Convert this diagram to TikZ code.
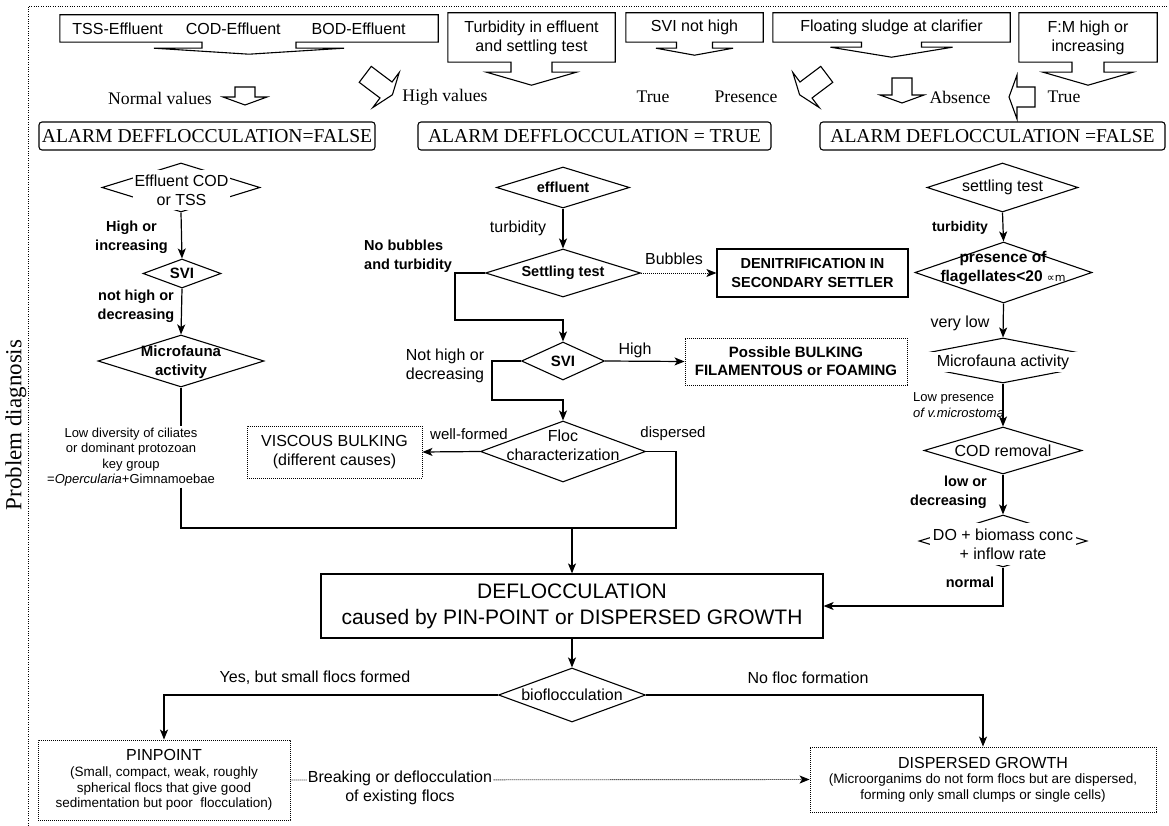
\documentclass[tikz,border=0pt]{standalone}
\usepackage{fontspec}
\setmainfont{Liberation Sans}
\newfontfamily\tms{Liberation Serif}
\newfontfamily\djv{DejaVu Sans}
\usetikzlibrary{arrows.meta,positioning,shapes.geometric,calc}

\newcommand\sznorm{\fontsize{16}{19}\selectfont}
\newcommand\szbold{\fontsize{14.5}{19}\selectfont\bfseries}
\newcommand\szsmall{\fontsize{13}{15.5}\selectfont}
\newcommand\szpar{\fontsize{13.5}{15.5}\selectfont}
\newcommand\szbig{\fontsize{21}{26}\selectfont}
\newcommand\sztimes{\tms\fontsize{17.7}{20}\selectfont}
\newcommand\szalarm{\tms\fontsize{19.6}{22}\selectfont}

% callout outline round a rectangle node: name, stem half width, stem length, wing half width, head length
\newcommand\callout[5]{%
  \draw[line width=1.1pt, line join=miter]
    (#1.south west) -- (#1.north west) -- (#1.north east) -- (#1.south east)
    -- ($(#1.south)+(#2,0)$) -- ($(#1.south)+(#2,#3)$) -- ($(#1.south)+(#4,#3)$)
    -- ($(#1.south)+(0,#3+#5)$) -- ($(#1.south)+(-#4,#3)$) -- ($(#1.south)+(-#2,#3)$)
    -- ($(#1.south)+(-#2,0)$) -- cycle;}

\tikzset{
  txt/.style={inner sep=1pt, align=center, font=\sznorm},
  btxt/.style={txt, font=\szbold},
  tlbl/.style={inner sep=1pt, font=\sztimes},
  mask/.style={txt, fill=white, inner sep=0pt},
  dec/.style={diamond, draw, line width=1.1pt, inner sep=0pt},
  solidbox/.style={draw, line width=1.2pt, rectangle, align=center, inner sep=0pt},
  dotbox/.style={draw, line width=0.9pt, dash pattern=on 0.9pt off 1.1pt, rectangle, align=center, inner sep=0pt},
  alarm/.style={draw, line width=1.1pt, rounded corners=3pt, font=\szalarm, minimum height=28pt, inner sep=0pt},
  wire/.style={line width=1.2pt},
  conn/.style={wire, -{Stealth[length=10pt, width=8pt, inset=2.5pt]}},
  dotconn/.style={line width=0.9pt, dash pattern=on 0.9pt off 1.1pt, -{Stealth[length=10pt, width=8pt, inset=2.5pt]}},
  pics/holarrow/.style={code={
    \draw[line width=1.1pt, line join=miter] (-10,-#1) -- (10,-#1) -- (10,0) -- (22,0) -- (0,8) -- (-22,0) -- (-10,0) -- cycle;}}
}

\begin{document}
\begin{tikzpicture}[x=1pt,y=-1pt]
\useasboundingbox (0,0) rectangle (1169,826);

% frame and side title
\draw[line width=0.9pt, dash pattern=on 1pt off 1.4pt] (28,826) -- (28,6) -- (1167,6);
\node[rotate=90, inner sep=0pt, font=\tms\fontsize{23}{26}\selectfont] (pdiag) at (16,425) {Problem diagnosis};

% observations
\node[txt, inner sep=0pt, minimum width=378pt, minimum height=27pt] (cb1) at (249,28.5) {TSS-Effluent\hspace{23pt}COD-Effluent\hspace{31pt}BOD-Effluent\hspace{20pt}};
\node[txt, inner sep=0pt, minimum width=167pt, minimum height=49pt] (cb2) at (531.5,37.5) {Turbidity in effluent\\and settling test};
\node[txt, inner sep=0pt, minimum width=137pt, minimum height=29pt] (cb3) at (694.5,27.5) {SVI not high};
\node[txt, inner sep=0pt, minimum width=237pt, minimum height=29pt] (cb4) at (891.5,27.5) {Floating sludge at clarifier};
\node[txt, inner sep=0pt, minimum width=138pt, minimum height=49pt] (cb5) at (1088,37.5) {F:M high or\\increasing};
\callout{cb1}{47}{6}{95}{6}
\callout{cb2}{20.5}{10}{45}{13}
\callout{cb3}{18}{6}{38.5}{7}
\callout{cb4}{30}{5}{61}{10}
\callout{cb5}{16}{10}{45}{13}

% block arrows and their labels
\pic at (245,97) {holarrow=10};
\pic[rotate=53] at (386,90) {holarrow=26};
\pic[rotate=-53] at (806,90) {holarrow=26};
\pic at (902,95) {holarrow=17};
\pic[rotate=-90] at (1017,97) {holarrow=18};
\node[tlbl] (lnorm) at (160,98) {Normal values};
\node[tlbl] (lhighv) at (445,97) {High values};
\node[tlbl] (ltrueA) at (653,97) {True};
\node[tlbl] (lpres) at (746,97) {Presence};
\node[tlbl] (labs) at (960,97) {Absence};
\node[tlbl] (ltrueB) at (1064,97) {True};

% alarms
\node[alarm, minimum width=336pt] (al1) at (207,136) {ALARM DEFFLOCCULATION=FALSE};
\node[alarm, minimum width=353pt] (al2) at (594.5,136) {ALARM DEFFLOCCULATION = TRUE};
\node[alarm, minimum width=345pt] (al3) at (992.5,136) {ALARM DEFLOCCULATION =FALSE};

% merge points
\coordinate (k1) at (455,320);
\coordinate (k2) at (492,400);
\coordinate (k3) at (676,528);
\coordinate (j1) at (572,528);

% left branch
\node[dec, minimum width=158pt, minimum height=49pt] (ecod) at (181,187.5) {};
\node[mask, minimum width=97pt, minimum height=40pt] (ecodt) at (181.5,190) {Effluent COD\\or TSS};
\node[dec, minimum width=78pt, minimum height=29pt] (svil) at (182,273.5) {};
\node[btxt, font=\fontsize{15}{18}\selectfont\bfseries] (svilt) at (svil) {SVI};
\node[dec, minimum width=166pt, minimum height=52pt] (mfl) at (181,361) {};
\node[btxt, font=\fontsize{15}{19}\selectfont\bfseries] (mflt) at (181,362) {Microfauna\\activity};
\node[txt, font=\szsmall] (lowt) at (131,457) {Low diversity of ciliates\\or dominant protozoan\\key group\\=\textit{Opercularia}+Gimnamoebae};
\node[btxt] (lhighinc) at (131.5,237.5) {High or\\increasing};
\node[btxt] (lnothigh) at (136,306.5) {not high or\\decreasing};
\draw[conn] (ecod.south) -- (svil.north);
\draw[conn] (svil.south) -- (mfl.north);
\draw[wire] (mfl.south) -- (mfl.south |- lowt.north);
\draw[wire] (mfl.south |- lowt.south) |- (j1);

% right branch
\node[dec, minimum width=151pt, minimum height=49pt] (stestr) at (1002.5,187.5) {};
\node[txt] (stestrt) at (stestr) {settling test};
\node[dec, minimum width=177pt, minimum height=61pt] (pres) at (1003.5,272.5) {};
\node[btxt, font=\fontsize{15.5}{19}\selectfont\bfseries] (prest) at (1003,268) {presence of\\flagellates<20 {\mdseries\fontsize{11}{13}\selectfont\djv ∝m}};
\node[dec, minimum width=232pt, minimum height=45pt] (mfr) at (1003,360.5) {};
\node[mask, minimum width=240pt, minimum height=20pt] (mfrt) at (1003,362) {Microfauna activity};
\node[dec, minimum width=158pt, minimum height=47pt] (codr) at (1003,450.5) {};
\node[mask, minimum width=100pt, minimum height=15pt] (codrt) at (1003,450.5) {COD removal};
\node[dec, minimum width=168pt, minimum height=52pt] (dobio) at (1003,541) {};
\node[mask, minimum width=146pt, minimum height=42pt] (dobiot) at (1003,544) {DO + biomass conc\\+ inflow rate};
\node[btxt, font=\fontsize{14}{18}\selectfont\bfseries] (lturbB) at (960,228) {turbidity};
\node[txt] (lvlow) at (960,323) {very low};
\node[txt, font=\szsmall, anchor=west, align=left] (llowp) at (912,405) {Low presence\\\textit{of v.microstoma}};
\node[btxt, anchor=east, align=right] (llowdec) at (988,492.5) {low or\\decreasing};
\node[btxt] (lnormal) at (970,582) {normal};
\draw[conn] (stestr.south) -- (pres.north);
\draw[conn] (pres.south) -- (mfr.north);
\draw[conn] (mfr.south) -- (codr.north);
\draw[conn] (codr.south) -- (dobio.north);

% middle branch
\node[dec, minimum width=133pt, minimum height=41pt] (effl) at (563,187.5) {};
\node[btxt] (efflt) at (effl) {effluent};
\node[dec, minimum width=155pt, minimum height=48pt] (stest) at (563,273) {};
\node[btxt] (stestt) at (stest) {Settling test};
\node[solidbox, minimum width=191pt, minimum height=48pt, font=\szbold] (denit) at (812.5,273) {DENITRIFICATION IN\\SECONDARY SETTLER};
\node[dec, minimum width=83pt, minimum height=38pt] (svim) at (563,361) {};
\node[btxt, font=\fontsize{15}{18}\selectfont\bfseries] (svimt) at (svim) {SVI};
\node[dotbox, minimum width=222pt, minimum height=47pt, font=\fontsize{15}{18}\selectfont\bfseries] (bulk) at (796,361.5) {Possible BULKING\\FILAMENTOUS or FOAMING};
\node[dec, minimum width=165pt, minimum height=61pt] (floc) at (563,451.5) {};
\node[txt] (floct) at (563,445) {Floc\\characterization};
\node[dotbox, minimum width=175pt, minimum height=52pt, font=\sznorm] (visc) at (334.5,452) {VISCOUS BULKING\\(different causes)};
\node[txt] (lturbA) at (518,228) {turbidity};
\node[btxt, anchor=west, align=left] (lnobub) at (363,256.5) {No bubbles\\and turbidity};
\node[txt] (lbub) at (674,259) {Bubbles};
\node[txt] (lhigh) at (635,350) {High};
\node[txt] (lnothighB) at (445,366) {Not high or\\decreasing};
\node[txt, font=\fontsize{15}{18}\selectfont] (lwell) at (469,434) {well-formed};
\node[txt, font=\fontsize{15}{18}\selectfont] (ldisp) at (673,434) {dispersed};
\draw[conn] (effl.south) -- (stest.north);
\draw[dotconn] (stest.east) -- (denit.west);
\draw[conn] (stest.west) -| (k1) -| (svim.north);
\draw[conn] (svim.east) -- (bulk.west);
\draw[conn] (svim.west) -| (k2) -| (floc.north);
\draw[conn] (floc.west) -- (visc.east);
\draw[wire] (floc.east) -| (k3) -- (j1);

% diagnosis
\node[solidbox, minimum width=502pt, minimum height=64pt, font=\szbig] (defl) at (572,606) {DEFLOCCULATION\\caused by PIN-POINT or DISPERSED GROWTH};
\draw[conn] (j1) -- (defl.north);
\draw[conn] (dobio.south) |- (defl.east);

% bottom
\node[dec, minimum width=147pt, minimum height=54pt] (biof) at (572,695) {};
\node[txt] (bioft) at (biof) {bioflocculation};
\node[dotbox, minimum width=252pt, minimum height=80pt, font=\szpar] (pinp) at (164,780) {{\sznorm PINPOINT}\\[1pt](Small, compact, weak, roughly\\spherical flocs that give good\\sedimentation but poor\ \ flocculation)};
\node[dotbox, minimum width=346pt, minimum height=65pt, font=\szpar] (disp) at (983,779.5) {{\sznorm DISPERSED GROWTH}\\(Microorganims do not form flocs but are dispersed,\\forming only small clumps or single cells)};
\node[txt] (lyes) at (315,678) {Yes, but small flocs formed};
\node[txt] (lnofloc) at (808,678) {No floc formation};
\draw[conn] (defl.south) -- (biof.north);
\draw[conn] (biof.west) -| (pinp.north);
\draw[conn] (biof.east) -| (disp.north);
\draw[dotconn] (pinp.east) -- (disp.west);
\node[txt, fill=white] (lbreak) at (400,788) {Breaking or deflocculation\\of existing flocs};
\end{tikzpicture}
\end{document}
